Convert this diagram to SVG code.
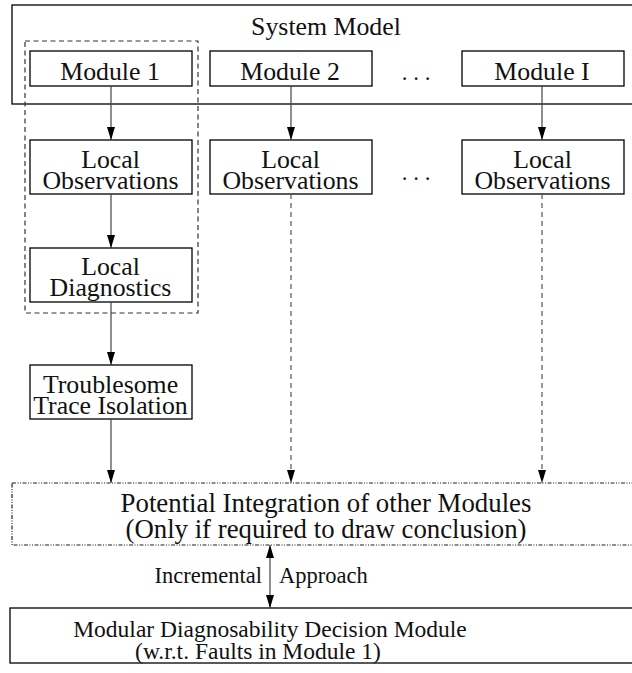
<svg xmlns="http://www.w3.org/2000/svg" width="632" height="673" viewBox="0 0 632 673">
<defs>
<marker id="ah" viewBox="0 0 13 8" refX="13" refY="4" markerWidth="13" markerHeight="8" markerUnits="userSpaceOnUse" orient="auto-start-reverse">
<path d="M0,0 L13,4 L0,8 Z" fill="#000"/>
</marker>
<style>
.box{fill:none;stroke:#000;stroke-width:1.3}
.dbox{fill:none;stroke:#333;stroke-width:1.2;stroke-dasharray:5 3.5}
.ddbox{fill:none;stroke:#222;stroke-width:1.2;stroke-dasharray:4 1.5 1 1.5 1 1.5}
.ln{fill:none;stroke:#444;stroke-width:1.2}
.dl{fill:none;stroke:#555;stroke-width:1.2;stroke-dasharray:5 4}
.t{font-family:'Liberation Serif','Times New Roman',serif;font-size:25.8px;fill:#111;text-anchor:middle}
.p{font-size:26.8px}
.b{font-size:23.5px}
.i{font-size:22.5px}
.d{font-size:23px}
</style>
</defs>
<rect width="632" height="673" fill="#fff"/>
<g id="system-model">
<rect class="box" x="12" y="5" width="628" height="99"/>
<text class="t" x="326" y="35">System Model</text>
</g>
<g id="module1-group">
<rect class="dbox" x="25" y="41" width="173" height="272"/>
</g>
<g id="module1">
<rect class="box" x="30" y="51" width="162" height="35"/>
<text class="t" x="110" y="80">Module 1</text>
</g>
<g id="module2">
<rect class="box" x="210" y="51" width="162" height="35"/>
<text class="t" x="290" y="80">Module 2</text>
</g>
<g id="dots1"><text class="t d" x="416" y="80">. . .</text></g>
<g id="moduleI">
<rect class="box" x="462" y="51" width="162" height="35"/>
<text class="t" x="542" y="80">Module I</text>
</g>
<g id="obs1">
<rect class="box" x="30" y="140" width="162" height="54"/>
<text class="t" x="110.5" y="168">Local</text>
<text class="t" x="110.5" y="189">Observations</text>
</g>
<g id="obs2">
<rect class="box" x="210" y="140" width="162" height="54"/>
<text class="t" x="290.5" y="168">Local</text>
<text class="t" x="290.5" y="189">Observations</text>
</g>
<g id="dots2"><text class="t d" x="416" y="180">. . .</text></g>
<g id="obsI">
<rect class="box" x="462" y="140" width="162" height="54"/>
<text class="t" x="542.5" y="168">Local</text>
<text class="t" x="542.5" y="189">Observations</text>
</g>
<g id="diag1">
<rect class="box" x="30" y="248" width="162" height="54"/>
<text class="t" x="110.5" y="275">Local</text>
<text class="t" x="110.5" y="296">Diagnostics</text>
</g>
<g id="trouble">
<rect class="box" x="30" y="365" width="162" height="54"/>
<text class="t" x="110.5" y="393">Troublesome</text>
<text class="t" x="110.5" y="414">Trace Isolation</text>
</g>
<g id="integration">
<rect class="ddbox" x="12" y="483" width="628" height="62"/>
<text class="t p" x="326" y="512">Potential Integration of other Modules</text>
<text class="t p" x="326" y="538">(Only if required to draw conclusion)</text>
</g>
<g id="decision">
<rect class="box" x="10" y="608" width="630" height="55"/>
<text class="t b" x="270" y="636.5">Modular Diagnosability Decision Module</text>
<text class="t b" x="258" y="659">(w.r.t. Faults in Module 1)</text>
</g>
<g id="incremental-label">
<text class="t i" x="262" y="583" style="text-anchor:end">Incremental</text>
<text class="t i" x="279" y="583" style="text-anchor:start">Approach</text>
</g>
<g id="connectors">
<line class="ln" x1="111" y1="86" x2="111" y2="140" marker-end="url(#ah)"/>
<line class="ln" x1="291" y1="86" x2="291" y2="140" marker-end="url(#ah)"/>
<line class="ln" x1="542" y1="86" x2="542" y2="140" marker-end="url(#ah)"/>
<line class="ln" x1="111" y1="194" x2="111" y2="248" marker-end="url(#ah)"/>
<line class="ln" x1="111" y1="302" x2="111" y2="365" marker-end="url(#ah)"/>
<line class="ln" x1="111" y1="419" x2="111" y2="483" marker-end="url(#ah)"/>
<line class="dl" x1="291" y1="194" x2="291" y2="483" marker-end="url(#ah)"/>
<line class="dl" x1="542" y1="194" x2="542" y2="483" marker-end="url(#ah)"/>
<line class="ln" x1="270" y1="545" x2="270" y2="608" marker-start="url(#ah)" marker-end="url(#ah)"/>
</g>
</svg>
